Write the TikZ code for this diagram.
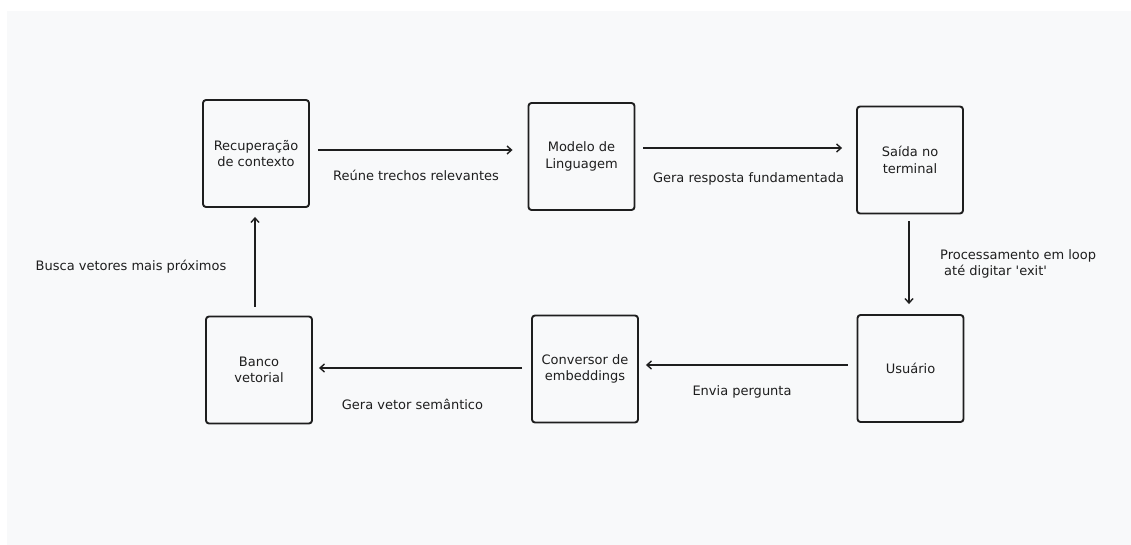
\documentclass[tikz,border=0pt]{standalone}
\usepackage{fontspec}
\setmainfont{DejaVu Sans}[Ligatures=TeXOff]
\usetikzlibrary{arrows.meta}
\definecolor{ink}{HTML}{1E1E1E}
\definecolor{canvas}{HTML}{F8F9FA}
\tikzset{
  stepbox/.style={draw=ink, line width=1.9pt, rounded corners=3pt,
    minimum width=106pt, minimum height=107pt, inner sep=0pt,
    align=center, text=ink, font=\fontsize{13}{16.5}\selectfont},
  flow/.style={draw=ink, line width=1.4pt,
    -{Straight Barb[length=4.5pt,width=8pt,line width=1.4pt]}},
  lbl/.style={text=ink, inner sep=0pt, font=\fontsize{13}{16.5}\selectfont}
}
\begin{document}
\begin{tikzpicture}[x=1pt,y=-1pt]
  % page and canvas
  \fill[white] (0,0) rectangle (1131,545);
  \fill[canvas] (7,11) rectangle (1131,545);
  \useasboundingbox (0,0) rectangle (1131,545);

  % pipeline steps
  \node[stepbox] (rec)  at (256,153.5) {Recuperação\\de contexto};
  \node[stepbox] (llm)  at (581.5,156.5) {Modelo de\\Linguagem};
  \node[stepbox] (out)  at (910,160) {Saída no\\terminal};
  \node[stepbox] (user) at (910.5,368.5) {Usuário};
  \node[stepbox] (emb)  at (585,369) {Conversor de\\embeddings};
  \node[stepbox] (vec)  at (259,370) {Banco\\vetorial};

  % connectors
  \draw[flow] ([shift={(8,-3.5)}]rec.east) -- ([shift={(-15,-6.5)}]llm.west);
  \draw[flow] ([shift={(8,-8.5)}]llm.east) -- ([shift={(-14,-12)}]out.west);
  \draw[flow] ([shift={(-1,7)}]out.south) -- ([shift={(-1.5,-10)}]user.north);
  \draw[flow] ([shift={(-9,-3.5)}]user.west) -- ([shift={(7,-4)}]emb.east);
  \draw[flow] ([shift={(-9,-1)}]emb.west) -- ([shift={(6,-2)}]vec.east);
  \draw[flow] ([shift={(-4,-9)}]vec.north) -- ([shift={(-1,9)}]rec.south);

  % connector labels
  \node[lbl] (l1) at (416,175) {Reúne trechos relevantes};
  \node[lbl] (l2) at (748.5,179) {Gera resposta fundamentada};
  \node[lbl, anchor=west, align=left] (l3) at (940,264)
    {Processamento em loop\\\hspace*{4pt}até digitar 'exit'};
  \node[lbl] (l4) at (742,392) {Envia pergunta};
  \node[lbl] (l5) at (412.5,404) {Gera vetor semântico};
  \node[lbl] (l6) at (131,267) {Busca vetores mais próximos};
\end{tikzpicture}
\end{document}
